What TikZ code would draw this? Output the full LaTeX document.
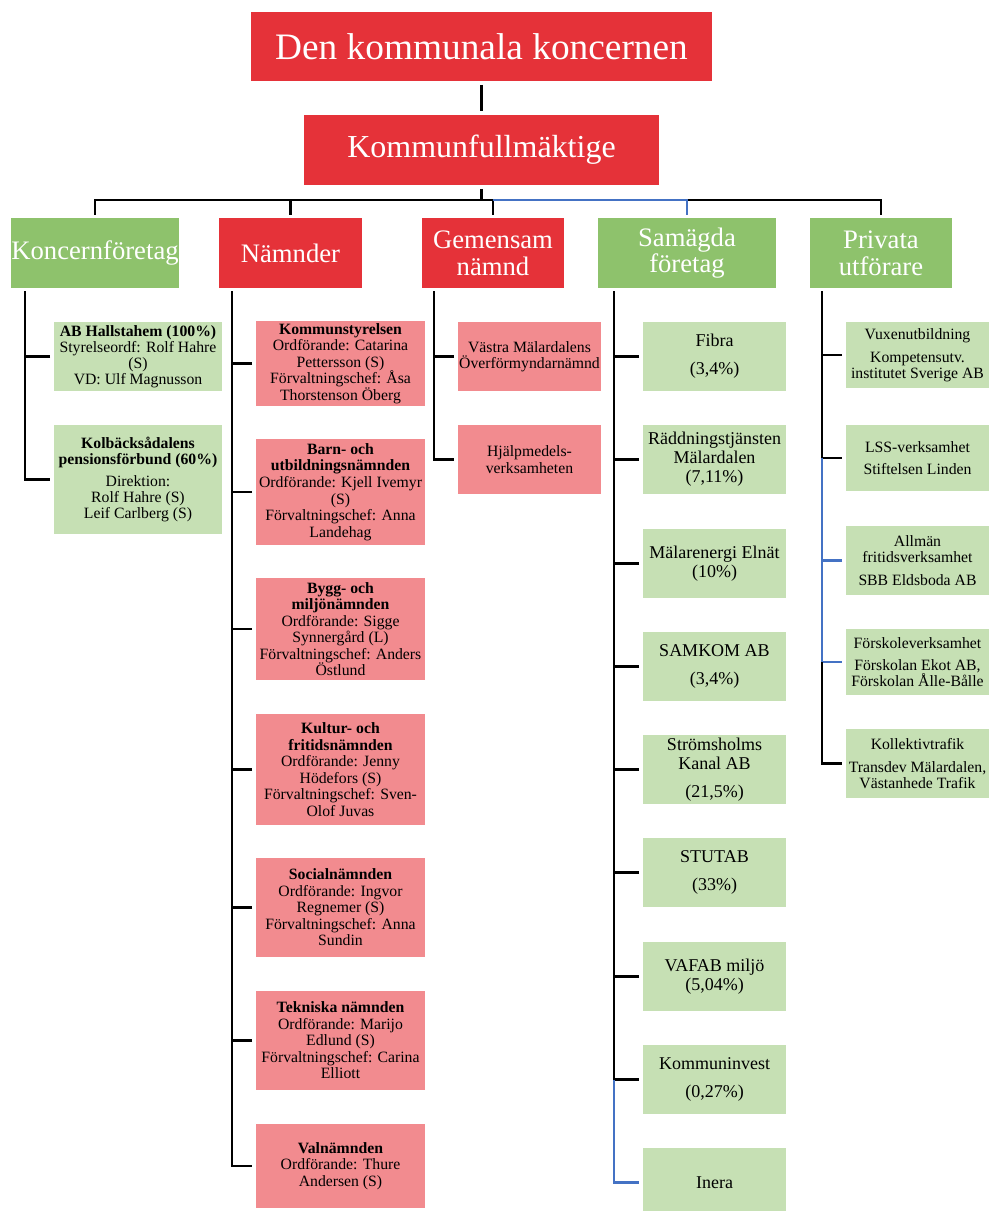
\documentclass[tikz,border=0pt]{standalone}
\usepackage{fontspec}
\setmainfont{Liberation Serif}
\usepackage{tikz}
\usetikzlibrary{arrows}
\usetikzlibrary{calc}
\definecolor{kred}{RGB}{229,50,57}
\definecolor{kgreen}{RGB}{142,194,108}
\definecolor{lgreen}{RGB}{198,224,180}
\definecolor{lred}{RGB}{242,139,143}
\definecolor{kblue}{RGB}{68,114,196}

\begin{document}
\begin{tikzpicture}[x=0.75pt,y=-0.75pt]
\useasboundingbox (0,0) rectangle (989,1211);
            \begin{scope}[line width=1.8pt,inner sep=0pt,align=center,
              box/.style 2 args={rectangle,minimum width=#1*0.75pt,minimum height=#2*0.75pt},
              head red/.style={box={#1}{70},fill=kred,text=white,font={\fontsize{20}{20}\selectfont}},
              head green/.style={box={#1}{70},fill=kgreen,text=white,font={\fontsize{20}{20}\selectfont}},
              red item/.style 2 args={box={#1}{#2},fill=lred,font={\fontsize{11.8}{12.4}\selectfont}},
              green item/.style 2 args={box={#1}{#2},fill=lgreen,font={\fontsize{11.8}{12}\selectfont}},
              sam item/.style={box={143}{#1},fill=lgreen,font={\fontsize{13.5}{14.2}\selectfont}},
              blue line/.style={draw=kblue}]
            \node[box={461}{69},fill=kred,text=white,font={\fontsize{28}{30}\selectfont}] (top) at (481.5,46.5) {Den kommunala koncernen};
            \node[box={355}{70},fill=kred,text=white,font={\fontsize{24}{26}\selectfont}] (kf) at (481.5,150) {Kommunfullmäktige};

            \node[head green=168] (kft) at (95,253) {Koncernföretag};
            \node[head red=143] (nmd) at (290.5,253) {Nämnder};
            \node[head red=142] (gem) at (493,253) {Gemensam\\nämnd};
            \node[head green=178] (sam) at (687,253) {Samägda\\företag};
            \node[head green=142] (pri) at (881,253) {Privata\\utförare};

            \node[green item={168}{69}] (k1) at (138,356.5) {\textbf{AB Hallstahem (100\%)}\\Styrelseordf: Rolf Hahre\\(S)\\VD: Ulf Magnusson};
            \node[green item={168}{109}] (k2) at (138,479.5) {\textbf{Kolbäcksådalens}\\\textbf{pensionsförbund (60\%)}\\[4.5pt]Direktion:\\Rolf Hahre (S)\\Leif Carlberg (S)};

            \node[red item={169}{85}] (n1) at (340.5,363.5) {\textbf{Kommunstyrelsen}\\Ordförande: Catarina\\Pettersson (S)\\Förvaltningschef: Åsa\\Thorstenson Öberg};
            \node[red item={169}{106}] (n2) at (340.5,492) {\textbf{Barn- och}\\\textbf{utbildningsnämnden}\\Ordförande: Kjell Ivemyr\\(S)\\Förvaltningschef: Anna\\Landehag};
            \node[red item={169}{102}] (n3) at (340.5,629) {\textbf{Bygg- och}\\\textbf{miljönämnden}\\Ordförande: Sigge\\Synnergård (L)\\Förvaltningschef: Anders\\Östlund};
            \node[red item={169}{111}] (n4) at (340.5,769.5) {\textbf{Kultur- och}\\\textbf{fritidsnämnden}\\Ordförande: Jenny\\Hödefors (S)\\Förvaltningschef: Sven-\\Olof Juvas};
            \node[red item={169}{99}] (n5) at (340.5,907.5) {\textbf{Socialnämnden}\\Ordförande: Ingvor\\Regnemer (S)\\Förvaltningschef: Anna\\Sundin};
            \node[red item={169}{99}] (n6) at (340.5,1040.5) {\textbf{Tekniska nämnden}\\Ordförande: Marijo\\Edlund (S)\\Förvaltningschef: Carina\\Elliott};
            \node[red item={169}{84}] (n7) at (340.5,1166) {\textbf{Valnämnden}\\Ordförande: Thure\\Andersen (S)};

            \node[red item={143}{69}] (g1) at (529.5,356.5) {Västra Mälardalens\\Överförmyndarnämnd};
            \node[red item={143}{69}] (g2) at (529.5,459.5) {Hjälpmedels-\\verksamheten};

            \node[sam item=69] (s1) at (714.5,356.5) {Fibra\\[7pt](3,4\%)};
            \node[sam item=69] (s2) at (714.5,459.5) {Räddningstjänsten\\Mälardalen\\(7,11\%)};
            \node[sam item=69] (s3) at (714.5,563.5) {Mälarenergi Elnät\\(10\%)};
            \node[sam item=69] (s4) at (714.5,666.5) {SAMKOM AB\\[7pt](3,4\%)};
            \node[sam item=69] (s5) at (714.5,769.5) {Strömsholms\\Kanal AB\\[7pt](21,5\%)};
            \node[sam item=69] (s6) at (714.5,872.5) {STUTAB\\[7pt](33\%)};
            \node[sam item=69] (s7) at (714.5,976.5) {VAFAB miljö\\(5,04\%)};
            \node[sam item=69] (s8) at (714.5,1079.5) {Kommuninvest\\[7pt](0,27\%)};
            \node[sam item=69] (s9) at (714.5,1182.5) {Inera};

            \node[green item={143}{66}] (p1) at (917.5,355) {Vuxenutbildning\\[5pt]Kompetensutv.\\institutet Sverige AB};
            \node[green item={143}{66}] (p2) at (917.5,458) {LSS-verksamhet\\[5pt]Stiftelsen Linden};
            \node[green item={143}{69}] (p3) at (917.5,560.5) {Allmän\\fritidsverksamhet\\[5pt]SBB Eldsboda AB};
            \node[green item={143}{66}] (p4) at (917.5,662) {Förskoleverksamhet\\[5pt]Förskolan Ekot AB,\\Förskolan Ålle-Bålle};
            \node[green item={143}{69}] (p5) at (917.5,763.5) {Kollektivtrafik\\[5pt]Transdev Mälardalen,\\Västanhede Trafik};

            \coordinate (bus) at (481.5,200);
            \draw[shorten <=2pt,shorten >=2pt] (top) -- (kf);
            \draw[shorten <=2pt] (kf) -- (bus);
            \draw[shorten <=1.5pt,shorten >=1.5pt] (kft.north) |- (bus) -| (pri.north);
            \draw[shorten <=1.5pt] (nmd.north) -- (nmd.north |- bus);
            \draw[shorten <=1.5pt] (gem.north) -- (gem.north |- bus);
            \draw[blue line,shorten >=1.5pt] (gem.north |- bus) -| (sam.north);

            \coordinate (t1) at ($(kft.south west)+(15,2)$);
            \coordinate (t2) at ($(nmd.south west)+(14,2)$);
            \coordinate (t3) at ($(gem.south west)+(13,2)$);
            \coordinate (t4) at ($(sam.south west)+(17,2)$);
            \coordinate (t5) at ($(pri.south west)+(13,2)$);

            \draw[shorten >=2pt] (t1) |- (k2.west);
            \draw[shorten <=2pt] (k1.west) -- (k1.west -| t1);

            \draw[shorten >=2pt] (t2) |- (n7.west);
            \foreach \n in {n1,n2,n3,n4,n5,n6}
              \draw[shorten <=2pt] (\n.west) -- (\n.west -| t2);

            \draw[shorten >=2pt] (t3) |- (g2.west);
            \draw[shorten <=2pt] (g1.west) -- (g1.west -| t3);

            \draw[shorten >=2pt] (t4) |- (s8.west);
            \foreach \n in {s1,s2,s3,s4,s5,s6,s7}
              \draw[shorten <=2pt] (\n.west) -- (\n.west -| t4);
            \draw[blue line,shorten >=2pt] (s8.west -| t4) |- (s9.west);

            \draw[shorten >=2pt] (t5) |- (p2.west);
            \draw[shorten <=2pt] (p1.west) -- (p1.west -| t5);
            \draw[blue line,shorten >=2pt] (p2.west -| t5) |- (p4.west);
            \draw[blue line,shorten <=2pt] (p3.west) -- (p3.west -| t5);
            \draw[shorten >=2pt] (p4.west -| t5) |- (p5.west);
            \end{scope}
        \end{tikzpicture}
\end{document}
